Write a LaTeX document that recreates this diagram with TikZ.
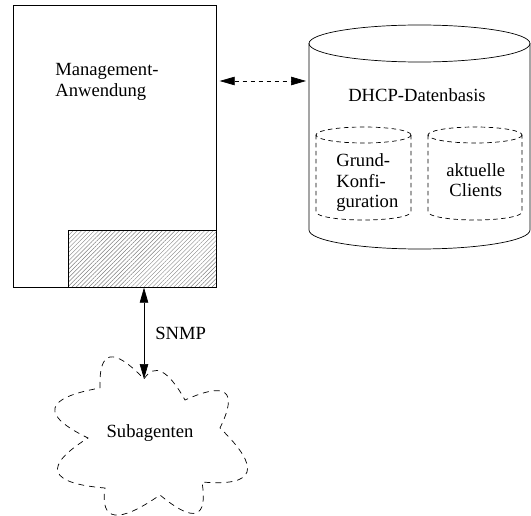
\documentclass[tikz,border=0pt]{standalone}
\usepackage{fontspec}
\setmainfont{Liberation Serif}
\usetikzlibrary{arrows.meta,patterns.meta}
\begin{document}
\begin{tikzpicture}[x=1pt,y=-1pt,
  line width=0.7pt,
  lbl/.style={font=\fontsize{18.6}{20.7}\selectfont, inner sep=0pt},
  dashline/.style={dash pattern=on 4.5pt off 3.5pt},
  clouddash/.style={dash pattern=on 6pt off 5pt},
  tri/.tip={Triangle[length=15pt,width=8.5pt]},
  boxnode/.style={draw, inner sep=0pt},
]
\useasboundingbox (0,0) rectangle (531,516);

% management application with its agent part
\node[boxnode, minimum width=203pt, minimum height=282pt, anchor=north west] (mgmt) at (13,5) {};
\node[boxnode, pattern={Lines[angle=45,distance=3pt,line width=0.45pt]}, pattern color=gray,
      minimum width=148pt, minimum height=57pt, anchor=south east] (agent) at (mgmt.south east) {};
\node[lbl, align=left, anchor=north west] (mgmtlabel) at (55,63) {Management-\\Anwendung};

% DHCP database cylinder
\draw (309,43.5) -- (309,230) arc[start angle=180, end angle=0, x radius=110.5, y radius=19] -- (530,43.5);
\draw (419.5,43.5) ellipse[x radius=110.5, y radius=18.5];
\coordinate (dbw) at (309,81);
\node[lbl, anchor=north] (dblabel) at (417,88.3) {DHCP-Datenbasis};

% inner stores
\draw[dashline] (363.5,135) ellipse[x radius=47.5, y radius=8];
\draw[dashline] (316,135) -- (316,212) arc[start angle=180, end angle=0, x radius=47.5, y radius=8] -- (411,135);
\node[lbl, align=left, anchor=north west] (basecfg) at (336,153.3) {Grund-\\Konfi-\\guration};

\draw[dashline] (475,135) ellipse[x radius=47, y radius=8];
\draw[dashline] (428,135) -- (428,212) arc[start angle=180, end angle=0, x radius=47, y radius=8] -- (522,135);
\node[lbl, align=center, anchor=north] (clients) at (475.8,163) {aktuelle\\Clients};

% subagent cloud: eight rounded points between sharp inner corners
\coordinate (cloudtop) at (144,379);
\draw[clouddash] (100,388)
  .. controls (98.7,349.7) and (113.3,346.7) .. (cloudtop)
  .. controls (154.3,362.7) and (168,369.7) .. (185,400)
  .. controls (226.7,381.3) and (238.3,390.7) .. (220,428)
  .. controls (262,468.7) and (256,486.7) .. (202,482)
  .. controls (208,519) and (194,523.3) .. (160,495)
  .. controls (118.3,524) and (100,521.7) .. (105,488)
  .. controls (48,483.3) and (42.3,466.7) .. (88,438)
  .. controls (40,414.7) and (44,398) .. cycle;
\node[lbl, anchor=north] (cloud) at (150,424) {Subagenten};

% connectors
\draw[dashline, tri-tri, shorten <=3pt, shorten >=3pt] (mgmt.east |- dbw) -- (dbw);
\draw[tri-tri] (agent.south -| cloudtop) -- (cloudtop);
\node[lbl, anchor=north west] (snmp) at (155,326.7) {SNMP};
\end{tikzpicture}
\end{document}
